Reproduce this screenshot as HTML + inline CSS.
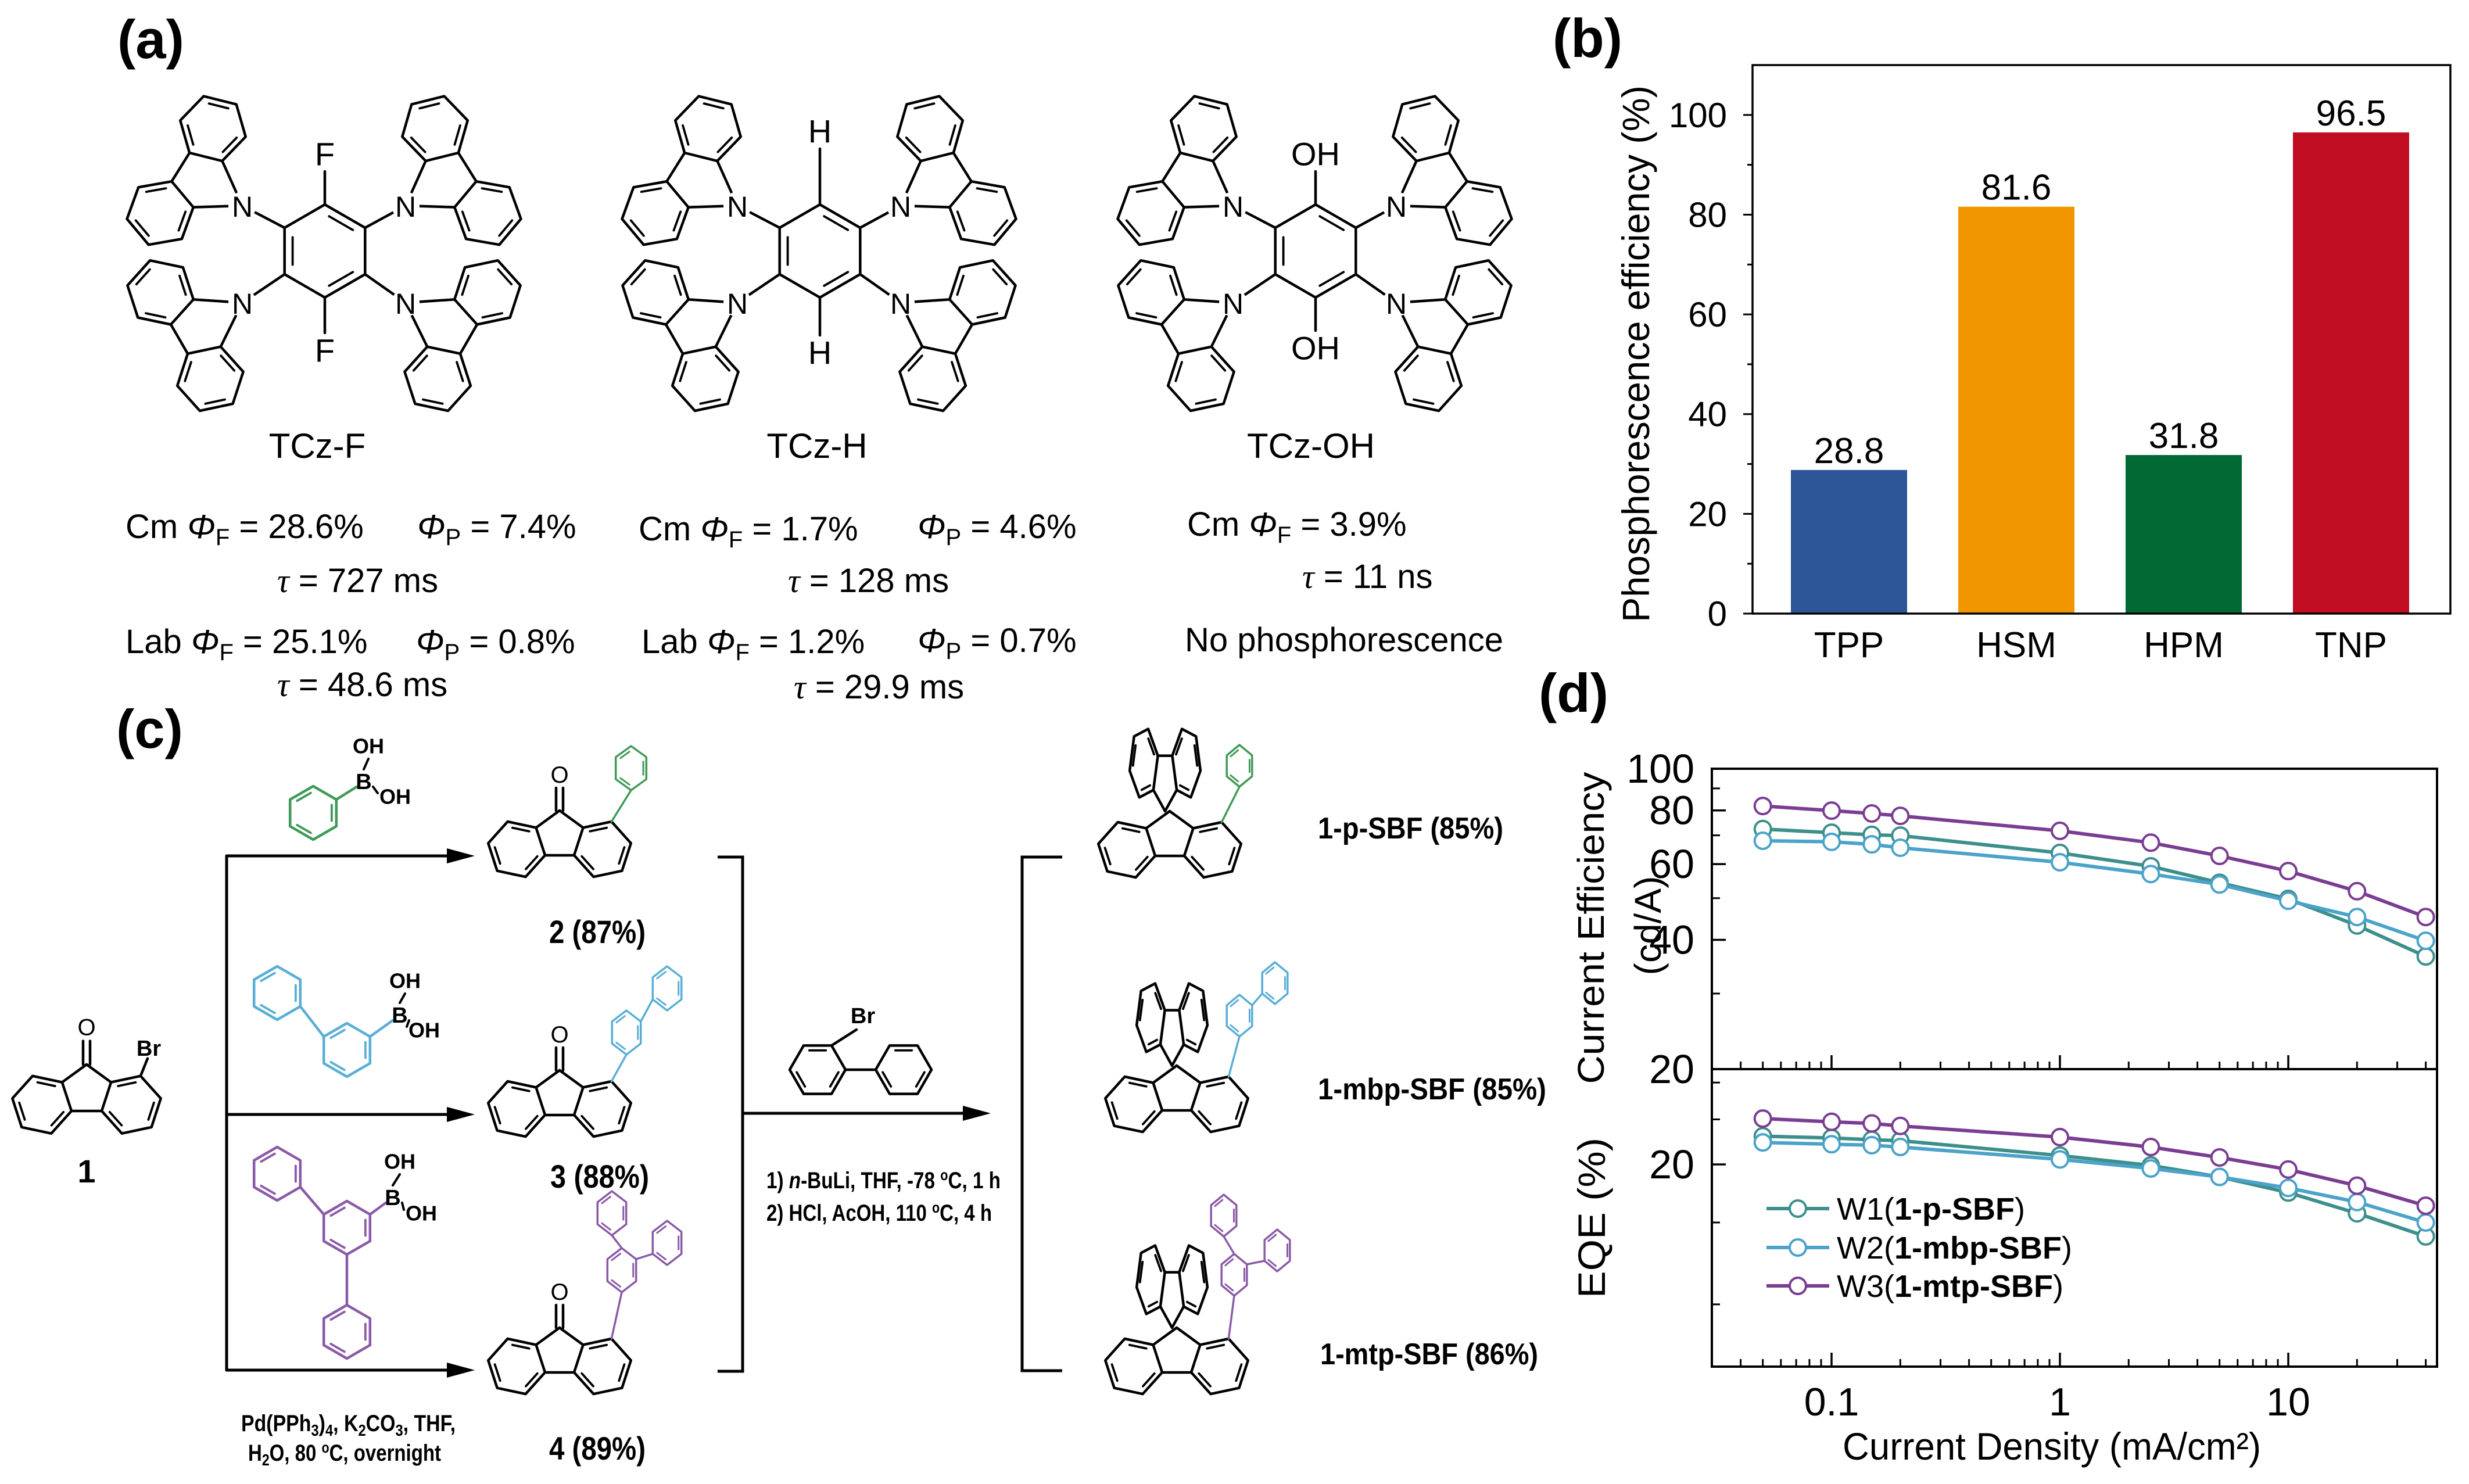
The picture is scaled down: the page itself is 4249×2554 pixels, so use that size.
<!DOCTYPE html>
<html><head><meta charset="utf-8"><style>
html,body{margin:0;padding:0;background:#fff}
svg{display:block}
text{font-family:"Liberation Sans",Arial,sans-serif;fill:#000}
.b{font-weight:bold}
.it{font-style:italic}
.tau{font-family:"Liberation Serif",serif;font-style:italic}
</style></head><body>
<svg id="fig" xmlns="http://www.w3.org/2000/svg" width="4249" height="2554" viewBox="0 0 4249 2554">
<rect x="0" y="0" width="4249" height="2554" fill="#fff"/>

<text x="202" y="100" font-size="94" class="b">(a)</text>
<text x="2672" y="98" font-size="94" class="b">(b)</text>
<text x="200" y="1287" font-size="94" class="b">(c)</text>
<text x="2648" y="1225" font-size="94" class="b">(d)</text>

<g id="pa"></g>
<g font-size="58">
 <text x="546" y="788" font-size="60" text-anchor="middle">TCz-F</text>
 <text x="1406" y="788" font-size="60" text-anchor="middle">TCz-H</text>
 <text x="2256" y="788" font-size="60" text-anchor="middle">TCz-OH</text>

 <text x="216" y="926">Cm <tspan class="it">Φ</tspan><tspan font-size="40" dy="12">F</tspan><tspan dy="-12"> = 28.6%</tspan></text>
 <text x="718" y="926"><tspan class="it">Φ</tspan><tspan font-size="40" dy="12">P</tspan><tspan dy="-12"> = 7.4%</tspan></text>
 <text x="477" y="1019"><tspan class="tau">τ</tspan> = 727 ms</text>
 <text x="216" y="1124">Lab <tspan class="it">Φ</tspan><tspan font-size="40" dy="12">F</tspan><tspan dy="-12"> = 25.1%</tspan></text>
 <text x="716" y="1124"><tspan class="it">Φ</tspan><tspan font-size="40" dy="12">P</tspan><tspan dy="-12"> = 0.8%</tspan></text>
 <text x="477" y="1198"><tspan class="tau">τ</tspan> = 48.6 ms</text>

 <text x="1099" y="930">Cm <tspan class="it">Φ</tspan><tspan font-size="40" dy="12">F</tspan><tspan dy="-12"> = 1.7%</tspan></text>
 <text x="1579" y="926"><tspan class="it">Φ</tspan><tspan font-size="40" dy="12">P</tspan><tspan dy="-12"> = 4.6%</tspan></text>
 <text x="1356" y="1019"><tspan class="tau">τ</tspan> = 128 ms</text>
 <text x="1104" y="1124">Lab <tspan class="it">Φ</tspan><tspan font-size="40" dy="12">F</tspan><tspan dy="-12"> = 1.2%</tspan></text>
 <text x="1579" y="1122"><tspan class="it">Φ</tspan><tspan font-size="40" dy="12">P</tspan><tspan dy="-12"> = 0.7%</tspan></text>
 <text x="1366" y="1202"><tspan class="tau">τ</tspan> = 29.9 ms</text>

 <text x="2043" y="922">Cm <tspan class="it">Φ</tspan><tspan font-size="40" dy="12">F</tspan><tspan dy="-12"> = 3.9%</tspan></text>
 <text x="2241" y="1012"><tspan class="tau">τ</tspan> = 11 ns</text>
 <text x="2039" y="1121" textLength="548" lengthAdjust="spacingAndGlyphs">No phosphorescence</text>
</g>

<g id="pc"></g>
<g>
 <text x="149" y="2035" font-size="56" class="b" text-anchor="middle">1</text>
 <text x="1028" y="1623" font-size="56" class="b" text-anchor="middle" textLength="166" lengthAdjust="spacingAndGlyphs">2 (87%)</text>
 <text x="1032" y="2044" font-size="56" class="b" text-anchor="middle" textLength="170" lengthAdjust="spacingAndGlyphs">3 (88%)</text>
 <text x="1028" y="2512" font-size="56" class="b" text-anchor="middle" textLength="166" lengthAdjust="spacingAndGlyphs">4 (89%)</text>
 <text x="2268" y="1443" font-size="52" class="b" textLength="319" lengthAdjust="spacingAndGlyphs">1-p-SBF (85%)</text>
 <text x="2268" y="1892" font-size="52" class="b" textLength="393" lengthAdjust="spacingAndGlyphs">1-mbp-SBF (85%)</text>
 <text x="2272" y="2348" font-size="52" class="b" textLength="375" lengthAdjust="spacingAndGlyphs">1-mtp-SBF (86%)</text>
 <text x="1319" y="2045" font-size="40" class="b" textLength="403" lengthAdjust="spacingAndGlyphs">1) <tspan class="it">n</tspan>-BuLi, THF, -78 <tspan font-size="26" dy="-14">o</tspan><tspan dy="14">C, 1 h</tspan></text>
 <text x="1319" y="2101" font-size="40" class="b" textLength="388" lengthAdjust="spacingAndGlyphs">2) HCl, AcOH, 110 <tspan font-size="26" dy="-14">o</tspan><tspan dy="14">C, 4 h</tspan></text>
 <text x="415" y="2463" font-size="40" class="b" textLength="369" lengthAdjust="spacingAndGlyphs">Pd(PPh<tspan font-size="28" dy="8">3</tspan><tspan dy="-8">)</tspan><tspan font-size="28" dy="8">4</tspan><tspan dy="-8">, K</tspan><tspan font-size="28" dy="8">2</tspan><tspan dy="-8">CO</tspan><tspan font-size="28" dy="8">3</tspan><tspan dy="-8">, THF,</tspan></text>
 <text x="427" y="2514" font-size="40" class="b" textLength="332" lengthAdjust="spacingAndGlyphs">H<tspan font-size="28" dy="8">2</tspan><tspan dy="-8">O, 80 </tspan><tspan font-size="26" dy="-14">o</tspan><tspan dy="14">C, overnight</tspan></text>
</g>

<g id="pb"></g>
<g id="pd"></g>
</svg>

<script>
const NS='http://www.w3.org/2000/svg';
function mk(tag,parent,attrs,name){
  const e=document.createElementNS(NS,tag);
  for(const k in attrs) e.setAttribute(k,attrs[k]);
  
  
  parent.appendChild(e); return e;
}
function line(g,p,q,col,w,name){return mk('line',g,{x1:p[0],y1:p[1],x2:q[0],y2:q[1],stroke:col,'stroke-width':w,'stroke-linecap':'round'},name||'bond');}
function poly(g,pts,col,w,name){return mk('polygon',g,{points:pts.map(p=>p[0].toFixed(1)+','+p[1].toFixed(1)).join(' '),fill:'none',stroke:col,'stroke-width':w,'stroke-linejoin':'round'},name||'ring');}
function txt(g,x,y,s,size,name,bold){const t=mk('text',g,{x:x,y:y,'font-size':size,'text-anchor':'middle','dominant-baseline':'central','font-weight':bold?'bold':'normal'},name);t.textContent=s;return t;}
function inner(g,r,idx,col,w){
  const c=r.c,v=r.v;
  idx.forEach(i=>{
    const p=v[i],q=v[(i+1)%v.length];
    const p1=[p[0]+(c[0]-p[0])*0.2,p[1]+(c[1]-p[1])*0.2], q1=[q[0]+(c[0]-q[0])*0.2,q[1]+(c[1]-q[1])*0.2];
    const a=[p1[0]+(q1[0]-p1[0])*0.13,p1[1]+(q1[1]-p1[1])*0.13], b=[q1[0]-(q1[0]-p1[0])*0.13,q1[1]-(q1[1]-p1[1])*0.13];
    line(g,a,b,col,w*0.85,'double-bond');
  });
}
function ringAt(g,cx,cy,r,rot,col,w,sx,sy){
  sx=sx||1;sy=sy||1;const v=[];
  for(let k=0;k<6;k++){const a=(rot+60*k)*Math.PI/180;v.push([cx+r*Math.cos(a)*sx,cy+r*Math.sin(a)*sy]);}
  const R={c:[cx,cy],v:v};poly(g,v,col,w,'benzene-ring');inner(g,R,[0,2,4],col,w);return R;
}
function nearest(r,p){let best=null,bd=1e9;r.v.forEach(v=>{const d=Math.hypot(v[0]-p[0],v[1]-p[1]);if(d<bd){bd=d;best=v;}});return best;}
function bondRings(g,A,B,col,w){line(g,nearest(A,B.c),nearest(B,A.c),col,w,'aryl-bond');}
function hexEdge(A,B,ref){
  const m=[(A[0]+B[0])/2,(A[1]+B[1])/2];let n=[m[0]-ref[0],m[1]-ref[1]];const nl=Math.hypot(n[0],n[1]);n=[n[0]/nl,n[1]/nl];
  const L=Math.hypot(B[0]-A[0],B[1]-A[1]);const c=[m[0]+n[0]*L*Math.sqrt(3)/2,m[1]+n[1]*L*Math.sqrt(3)/2];
  const rot=(p,deg)=>{const a=deg*Math.PI/180;const dx=p[0]-c[0],dy=p[1]-c[1];return [c[0]+dx*Math.cos(a)-dy*Math.sin(a),c[1]+dx*Math.sin(a)+dy*Math.cos(a)];};
  const t=rot(A,60);const s=(Math.hypot(t[0]-B[0],t[1]-B[1])<1e-3)?1:-1;
  const v=[];for(let k=0;k<6;k++)v.push(rot(A,s*60*k));return {c:c,v:v};
}
function tricycle(g,ax,ay,axisDeg,b,col,w,sx,nLabel,ext){
  sx=sx||1;ext=ext||0;
  const R=b/(2*Math.sin(Math.PI/5));const pc=[0,R];
  const P=[0,1,2,3,4].map(i=>{const a=(-90+72*i)*Math.PI/180;return [R*Math.cos(a),R+R*Math.sin(a)];});
  P[0]=[0,0];
  const rh=hexEdge(P[1],P[2],pc),lh=hexEdge(P[4],P[3],pc);
  const th=(axisDeg-90)*Math.PI/180;
  const T=p=>{const isApex=Math.hypot(p[0],p[1])<1e-6;const x=p[0]*sx,y=p[1]+(isApex?0:ext);return [ax+x*Math.cos(th)-y*Math.sin(th),ay+x*Math.sin(th)+y*Math.cos(th)];};
  const RH={c:T(rh.c),v:rh.v.map(T)},LH={c:T(lh.c),v:lh.v.map(T)};
  poly(g,RH.v,col,w,'fused-ring');poly(g,LH.v,col,w,'fused-ring');
  inner(g,RH,[1,3,5],col,w);inner(g,LH,[1,3,5],col,w);
  const Q=P.map(T);
  line(g,Q[0],Q[1],col,w,'five-ring-bond');line(g,Q[0],Q[4],col,w,'five-ring-bond');line(g,Q[2],Q[3],col,w,'five-ring-bond');
  if(nLabel){mk('circle',g,{cx:ax,cy:ay,r:24,fill:'#fff'},'label-mask');txt(g,ax,ay+2,nLabel,50,'nitrogen-label');}
  return {apex:[ax,ay],RH:RH,LH:LH,C1:RH.v[5],C8:LH.v[5]};
}

/* Panel a */
const pa=document.getElementById('pa');
const subsTop=['F','H','OH'], subsTopY=[265,226,265], subsBotY=[603,607,599];
const molX=[559,1411,2264];
molX.forEach((cx,mi)=>{
  const g=mk('g',pa,{},'tcz-molecule');
  const cy=432,r=80,w=4.5;
  const v=[];for(let k=0;k<6;k++){const a=(-90+60*k)*Math.PI/180;v.push([cx+r*Math.cos(a),cy+r*Math.sin(a)]);}
  const ring={c:[cx,cy],v:v};poly(g,v,'#000',w,'central-benzene');inner(g,ring,[0,2,4],'#000',w);
  const Ns=[[cx-142,354,212],[cx+139,354,328],[cx-142,521,150],[cx+139,521,30]];
  const att=[v[5],v[1],v[4],v[2]];
  Ns.forEach((n,i)=>{line(g,att[i],[n[0],n[1]],'#000',w,'c-n-bond');tricycle(g,n[0],n[1],n[2],58,'#000',w,1,'N',36);});
  const s=subsTop[mi];
  line(g,v[0],[cx,subsTopY[mi]+30],'#000',w,'substituent-bond');
  line(g,v[3],[cx,subsBotY[mi]-30],'#000',w,'substituent-bond');
  txt(g,cx,subsTopY[mi],s,56,'substituent-top');
  txt(g,cx,subsBotY[mi],s,56,'substituent-bottom');
});

/* Panel c */
const pc=document.getElementById('pc');
const K='#000',W=4.5,GREEN='#3f9a57',BLUE='#5aaed6',PURP='#8a5aa8';
function arrow(g,x1,x2,y,name){line(g,[x1,y],[x2-40,y],K,5,name);mk('polygon',g,{points:`${x2},${y} ${x2-48},${y-13} ${x2-48},${y+13}`,fill:K},name+'-head');}
function fluorenone(g,ax,ay,b){
  const f=tricycle(g,ax,ay,90,b,K,W,1);
  line(g,[ax-6,ay],[ax-6,ay-b*0.78],K,W,'carbonyl-bond');line(g,[ax+6,ay],[ax+6,ay-b*0.78],K,W,'carbonyl-bond');
  txt(g,ax,ay-b*1.22,'O',40,'oxygen-label');return f;
}
function boron(g,ring,bx,by,o1,o2,col){
  line(g,nearest(ring,[bx,by]),[bx-12,by+8],col,W,'c-b-bond');
  line(g,[bx,by-22],[o1[0],o1[1]+22],K,4,'b-oh-bond');line(g,[bx+16,by+8],[o2[0]-30,o2[1]-6],K,4,'b-oh-bond');
  txt(g,bx,by,'B',38,'boron-label',true);txt(g,o1[0],o1[1],'OH',36,'hydroxyl-label',true);txt(g,o2[0],o2[1],'OH',36,'hydroxyl-label',true);
}
line(pc,[390,1473],[390,2358],K,5,'branch-line');
arrow(pc,390,817,1473,'arrow-to-2');arrow(pc,390,817,1918,'arrow-to-3');arrow(pc,390,817,2358,'arrow-to-4');
mk('polyline',pc,{points:'1235,1475 1278,1475 1278,2360 1235,2360',fill:'none',stroke:K,'stroke-width':5},'bracket-intermediates');
arrow(pc,1278,1705,1916,'arrow-to-products');
mk('polyline',pc,{points:'1828,1475 1759,1475 1759,2359 1828,2359',fill:'none',stroke:K,'stroke-width':5},'bracket-products');
const c1=fluorenone(mk('g',pc,{},'compound-1'),149,1832,52);
line(pc,c1.C1,[c1.C1[0]+12,c1.C1[1]-30],K,W,'c-br-bond');txt(pc,256,1805,'Br',38,'bromine-label',true);
const gA=mk('g',pc,{},'phenylboronic-acid');const rA=ringAt(gA,539,1399,46,-30,GREEN,W);boron(gA,rA,626,1346,[634,1284],[680,1371],GREEN);
const gB=mk('g',pc,{},'biphenylboronic-acid');const rB1=ringAt(gB,477,1709,46,-30,BLUE,W),rB2=ringAt(gB,597,1807,46,-30,BLUE,W);bondRings(gB,rB1,rB2,BLUE,W);boron(gB,rB2,688,1748,[697,1688],[730,1773],BLUE);
const gC=mk('g',pc,{},'terphenylboronic-acid');const rC1=ringAt(gC,477,2020,46,-30,PURP,W),rC2=ringAt(gC,597,2113,46,-30,PURP,W),rC3=ringAt(gC,597,2292,46,-30,PURP,W);bondRings(gC,rC1,rC2,PURP,W);bondRings(gC,rC2,rC3,PURP,W);boron(gC,rC2,676,2062,[688,1999],[725,2088],PURP);
const g2=mk('g',pc,{},'compound-2');const f2=fluorenone(g2,963,1395,50);const a2=ringAt(g2,1086,1322,38,-30,GREEN,3.5,0.8,1);line(g2,f2.C1,nearest(a2,f2.C1),GREEN,3.5,'aryl-bond');
const g3=mk('g',pc,{},'compound-3');const f3=fluorenone(g3,963,1842,50);const a31=ringAt(g3,1078,1777,38,-30,BLUE,3.5,0.75,1),a32=ringAt(g3,1148,1701,38,-30,BLUE,3.5,0.75,1);line(g3,f3.C1,nearest(a31,f3.C1),BLUE,3.5,'aryl-bond');bondRings(g3,a31,a32,BLUE,3.5);
const g4=mk('g',pc,{},'compound-4');const f4=fluorenone(g4,963,2285,50);const a41=ringAt(g4,1070,2186,38,-30,PURP,3.5,0.75,1),a42=ringAt(g4,1053,2088,38,-30,PURP,3.5,0.75,1),a43=ringAt(g4,1148,2139,38,-30,PURP,3.5,0.75,1);line(g4,f4.C1,nearest(a41,f4.C1),PURP,3.5,'aryl-bond');bondRings(g4,a41,a42,PURP,3.5);bondRings(g4,a41,a43,PURP,3.5);
const gBr=mk('g',pc,{},'2-bromobiphenyl');const bb1=ringAt(gBr,1407,1841,48,0,K,W),bb2=ringAt(gBr,1555,1841,48,0,K,W);bondRings(gBr,bb1,bb2,K,W);line(gBr,bb1.v[5],[1474,1772],K,W,'c-br-bond');txt(gBr,1485,1749,'Br',38,'bromine-label',true);
function sbf(name,ax,ay,rings,col){
  const g=mk('g',pc,{},name);
  const f=tricycle(g,ax,ay,90,50,K,W,1);
  tricycle(g,ax-8,ay,-90,62,K,W,0.4);
  const rs=rings.map(r=>ringAt(g,r[0],r[1],36,-30,col,3.5,0.7,1));
  line(g,f.C1,nearest(rs[0],f.C1),col,3.5,'aryl-bond');
  for(let i=1;i<rs.length;i++)bondRings(g,rs[0],rs[i],col,3.5);
}
sbf('product-1-p-sbf',2013,1396,[[2133,1318]],GREEN);
sbf('product-1-mbp-sbf',2025,1834,[[2133,1748],[2194,1692]],BLUE);
sbf('product-1-mtp-sbf',2025,2285,[[2124,2194],[2106,2092],[2198,2152]],PURP);
</script>

<script>
/* Panel b: bar chart */
const barCats=['TPP','HSM','HPM','TNP'];
const barVals=[28.8,81.6,31.8,96.5];
const barLabels=['28.8','81.6','31.8','96.5'];
const barColors=['#2c5697','#f29600','#006934','#c00d22'];
const bYTicks=[0,20,40,60,80,100];
const bYMinor=[10,30,50,70,90];
(function(){
  const g=document.getElementById('pb');
  const L=3016,Rr=4217,T=112,B=1056;
  const yB=v=>B-v*(B-T)/110;
  const xB=i=>3182+288*i;
  bYMinor.forEach(v=>{mk('line',g,{x1:L-9,x2:L,y1:yB(v),y2:yB(v),stroke:'#000','stroke-width':3},'y-minor-tick');});
  bYTicks.forEach(v=>{
    mk('line',g,{x1:L-16,x2:L,y1:yB(v),y2:yB(v),stroke:'#000','stroke-width':3},'y-major-tick');
    const t=mk('text',g,{x:2972,y:yB(v)+21,'font-size':60,'text-anchor':'end'},'y-tick-label');t.textContent=v;
  });
  barVals.forEach((v,i)=>{
    mk('rect',g,{x:xB(i)-100,y:yB(v),width:200,height:B-yB(v),fill:barColors[i]},'bar-'+barCats[i].toLowerCase());
    const t=mk('text',g,{x:xB(i),y:yB(v)-12,'font-size':62,'text-anchor':'middle'},'bar-value-label');t.textContent=barLabels[i];
    const c=mk('text',g,{x:xB(i),y:1131,'font-size':62,'text-anchor':'middle'},'x-tick-label');c.textContent=barCats[i];
  });
  mk('rect',g,{x:L,y:T,width:Rr-L,height:B-T,fill:'none',stroke:'#000','stroke-width':3.5},'plot-frame');
  const yt=mk('text',g,{x:0,y:0,'font-size':66,'text-anchor':'middle',transform:'translate(2838,609) rotate(-90)',textLength:924,lengthAdjust:'spacingAndGlyphs'},'y-axis-title');yt.textContent='Phosphorescence efficiency (%)';
})();

/* Panel d: line chart */
const densX=[0.05,0.1,0.15,0.2,1,2.5,5,10,20,40];
const ceW1=[72.4,71.0,70.2,69.9,63.7,59.3,54.3,49.8,43.2,36.6];
const ceW2=[68.0,67.6,66.7,65.5,60.6,56.9,53.8,49.3,45.2,39.8];
const ceW3=[81.9,79.9,78.7,77.7,71.7,67.3,62.7,57.8,51.9,45.2];
const eqeW1=[23.0,22.8,22.6,22.5,20.9,19.9,18.8,17.4,15.7,14.0];
const eqeW2=[22.3,22.1,22.0,21.8,20.5,19.6,18.8,17.8,16.6,15.0];
const eqeW3=[25.1,24.7,24.5,24.2,22.9,21.8,20.7,19.5,18.0,16.3];
const xMajor=[0.1,1,10];
const xMajorLabels=['0.1','1','10'];
const xMinor=[0.04,0.05,0.06,0.07,0.08,0.09,0.2,0.3,0.4,0.5,0.6,0.7,0.8,0.9,2,3,4,5,6,7,8,9,20,30,40];
const ceTicks=[100,80,60,40,20];
const ceMinor=[90,70,50,30];
const eqeTicks=[20];
const eqeMinor=[30,25,15,10];
const seriesNames=['W1','W2','W3'];
const seriesBold=['1-p-SBF','1-mbp-SBF','1-mtp-SBF'];
(function(){
  const g=document.getElementById('pd');
  const L=2946,Rr=4194,T=1323,S=1840,B=2352;
  const xD=v=>3152+393*Math.log10(v/0.1);
  const yCE=v=>T+740*Math.log10(100/v);
  const yEQ=v=>2004+800*Math.log10(20/v);
  const cols=['#3d8f8c','#4ba3c9','#7a3d92'];
  [S,B].forEach(yy=>{
    xMajor.forEach(v=>mk('line',g,{x1:xD(v),x2:xD(v),y1:yy,y2:yy-24,stroke:'#000','stroke-width':3.5},'x-major-tick'));
    xMinor.forEach(v=>mk('line',g,{x1:xD(v),x2:xD(v),y1:yy,y2:yy-13,stroke:'#000','stroke-width':3},'x-minor-tick'));
  });
  xMajor.forEach((v,i)=>{const t=mk('text',g,{x:xD(v),y:2436,'font-size':68,'text-anchor':'middle'},'x-tick-label');t.textContent=xMajorLabels[i];});
  ceTicks.forEach(v=>{
    mk('line',g,{x1:L,x2:L+24,y1:yCE(v),y2:yCE(v),stroke:'#000','stroke-width':3.5},'ce-major-tick');
    const t=mk('text',g,{x:2916,y:yCE(v)+24,'font-size':70,'text-anchor':'end'},'ce-tick-label');t.textContent=v;
  });
  ceMinor.forEach(v=>mk('line',g,{x1:L,x2:L+14,y1:yCE(v),y2:yCE(v),stroke:'#000','stroke-width':3},'ce-minor-tick'));
  eqeTicks.forEach(v=>{
    mk('line',g,{x1:L,x2:L+24,y1:yEQ(v),y2:yEQ(v),stroke:'#000','stroke-width':3.5},'eqe-major-tick');
    const t=mk('text',g,{x:2916,y:yEQ(v)+24,'font-size':70,'text-anchor':'end'},'eqe-tick-label');t.textContent=v;
  });
  eqeMinor.forEach(v=>mk('line',g,{x1:L,x2:L+14,y1:yEQ(v),y2:yEQ(v),stroke:'#000','stroke-width':3},'eqe-minor-tick'));
  mk('rect',g,{x:L,y:T,width:Rr-L,height:B-T,fill:'none',stroke:'#000','stroke-width':4},'plot-frame');
  mk('line',g,{x1:L,x2:Rr,y1:S,y2:S,stroke:'#000','stroke-width':4},'panel-divider');
  function series(vals,yf,col,name){
    const pts=densX.map((x,i)=>xD(x).toFixed(1)+','+yf(vals[i]).toFixed(1)).join(' ');
    mk('polyline',g,{points:pts,fill:'none',stroke:col,'stroke-width':6,'stroke-linejoin':'round'},name+'-line');
    densX.forEach((x,i)=>mk('circle',g,{cx:xD(x),cy:yf(vals[i]),r:14,fill:'#fff',stroke:col,'stroke-width':4},name+'-marker'));
  }
  series(ceW1,yCE,cols[0],'ce-w1');series(ceW2,yCE,cols[1],'ce-w2');series(ceW3,yCE,cols[2],'ce-w3');
  series(eqeW1,yEQ,cols[0],'eqe-w1');series(eqeW2,yEQ,cols[1],'eqe-w2');series(eqeW3,yEQ,cols[2],'eqe-w3');
  const ly=[2080,2147,2213];
  seriesNames.forEach((n,i)=>{
    mk('line',g,{x1:3040,x2:3148,y1:ly[i],y2:ly[i],stroke:cols[i],'stroke-width':6},'legend-line');
    mk('circle',g,{cx:3094,cy:ly[i],r:14,fill:'#fff',stroke:cols[i],'stroke-width':4},'legend-marker');
    const t=mk('text',g,{x:3161,y:ly[i]+19,'font-size':54},'legend-entry');
    const a=document.createElementNS(NS,'tspan');a.textContent=n+'(';t.appendChild(a);
    const b=document.createElementNS(NS,'tspan');b.setAttribute('font-weight','bold');b.textContent=seriesBold[i];t.appendChild(b);
    const c=document.createElementNS(NS,'tspan');c.textContent=')';t.appendChild(c);
  });
  const t1=mk('text',g,{x:0,y:0,'font-size':64,'text-anchor':'middle',transform:'translate(2760,1597) rotate(-90)',textLength:537,lengthAdjust:'spacingAndGlyphs'},'ce-axis-title');t1.textContent='Current Efficiency';
  const t2=mk('text',g,{x:0,y:0,'font-size':64,'text-anchor':'middle',transform:'translate(2858,1593) rotate(-90)'},'ce-axis-unit');t2.textContent='(cd/A)';
  const t3=mk('text',g,{x:0,y:0,'font-size':66,'text-anchor':'middle',transform:'translate(2762,2096) rotate(-90)',textLength:276,lengthAdjust:'spacingAndGlyphs'},'eqe-axis-title');t3.textContent='EQE (%)';
  const t4=mk('text',g,{x:3531,y:2512,'font-size':66,'text-anchor':'middle',textLength:720,lengthAdjust:'spacingAndGlyphs'},'x-axis-title');
  t4.textContent='Current Density (mA/cm²)';
})();
</script>
</body></html>
